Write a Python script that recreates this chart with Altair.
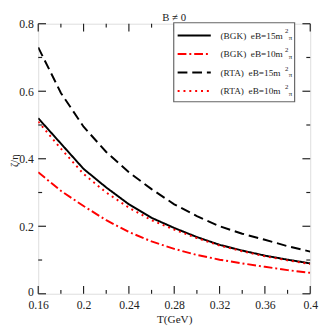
import altair as alt
import pandas as pd

T = [0.16, 0.18, 0.20, 0.22, 0.24, 0.26, 0.28, 0.30, 0.32, 0.34, 0.36, 0.38, 0.40]
bgk15 = [0.52, 0.445, 0.37, 0.315, 0.265, 0.225, 0.195, 0.168, 0.145, 0.128, 0.113, 0.101, 0.09]
bgk10 = [0.36, 0.305, 0.26, 0.218, 0.183, 0.155, 0.133, 0.115, 0.101, 0.09, 0.08, 0.07, 0.062]
rta15 = [0.73, 0.595, 0.495, 0.42, 0.36, 0.31, 0.265, 0.23, 0.20, 0.178, 0.16, 0.141, 0.125]
rta10 = [0.51, 0.43, 0.355, 0.30, 0.255, 0.218, 0.19, 0.165, 0.143, 0.126, 0.111, 0.099, 0.088]

series_names = ["(BGK)  eB=15m", "(BGK)  eB=10m", "(RTA)  eB=15m", "(RTA)  eB=10m"]
series_vals = [bgk15, bgk10, rta15, rta10]
series_color = ["black", "red", "black", "red"]
series_dash = [[1, 0], [9, 3, 2, 3], [10, 5], [2, 4]]

x_major = [0.16, 0.20, 0.24, 0.28, 0.32, 0.36, 0.40]
x_minor = [0.18, 0.22, 0.26, 0.30, 0.34, 0.38]
y_major = [0.0, 0.2, 0.4, 0.6, 0.8]
y_minor = [0.1, 0.3, 0.5, 0.7]

W, H = 279, 277
FONT = "Liberation Serif"

xs = alt.Scale(domain=[0.16, 0.40], nice=False, zero=False)
ys = alt.Scale(domain=[0.0, 0.8], nice=False, zero=False)

layers = []
for name, vals, col, dash in zip(series_names, series_vals, series_color, series_dash):
    df = pd.DataFrame({"T": T, "v": vals, "s": name})
    layers.append(
        alt.Chart(df).mark_line(color=col, strokeDash=dash, strokeWidth=2, clip=True).encode(
            x=alt.X("T:Q", scale=xs),
            y=alt.Y("v:Q", scale=ys),
        )
    )

# inward ticks on all four sides
def xticks(vals, length):
    d = pd.DataFrame({"t": vals})
    b = alt.Chart(d).mark_rule(color="#222", strokeWidth=1.2).encode(
        x=alt.X("t:Q", scale=xs), y=alt.value(H), y2=alt.value(H - length))
    t = alt.Chart(d).mark_rule(color="#222", strokeWidth=1.2).encode(
        x=alt.X("t:Q", scale=xs), y=alt.value(0), y2=alt.value(length))
    return [b, t]

def yticks(vals, length):
    d = pd.DataFrame({"t": vals})
    l = alt.Chart(d).mark_rule(color="#222", strokeWidth=1.2).encode(
        y=alt.Y("t:Q", scale=ys), x=alt.value(0), x2=alt.value(length))
    r = alt.Chart(d).mark_rule(color="#222", strokeWidth=1.2).encode(
        y=alt.Y("t:Q", scale=ys), x=alt.value(W), x2=alt.value(W - length))
    return [l, r]

ticks = xticks(x_major, 8) + xticks(x_minor, 4) + yticks(y_major, 8) + yticks(y_minor, 4)

# axes (labels only)
axis_layer = alt.Chart(pd.DataFrame({"T": [0.16], "v": [0.0]})).mark_point(opacity=0).encode(
    x=alt.X("T:Q", scale=xs, axis=alt.Axis(
        values=x_major, format=".2~f", ticks=False, domain=False, grid=False,
        labelFlush=False, labelOverlap=False,
        labelFont=FONT, labelFontSize=12, labelColor="#222", labelPadding=6,
        title="T(GeV)", titleFont=FONT, titleFontSize=11.5, titleFontWeight="normal",
        titleColor="#222", titleY=29.5, titleBaseline="alphabetic")),
    y=alt.Y("v:Q", scale=ys, axis=alt.Axis(
        values=y_major, format=".1~f", ticks=False, domain=False, grid=False,
        labelFlush=False, labelOverlap=False,
        labelOffset={"condition": {"test": "datum.value === 0", "value": -2.5}, "value": 0},
        labelFont=FONT, labelFontSize=12, labelColor="#222", labelPadding=5,
        title="ζ/η", titleFont=FONT, titleFontSize=10.5, titleFontWeight="normal",
        titleColor="#222", titleX=-21.5, titleY=140, titleAngle=270, titleBaseline="alphabetic")),
)

# title text
title_layer = alt.Chart(pd.DataFrame({"t": ["B ≠ 0"]})).mark_text(
    font=FONT, fontSize=11, color="#222", baseline="alphabetic", align="center").encode(
    text="t:N", x=alt.value(W / 2), y=alt.value(-2.5))

# legend (drawn manually)
box = alt.Chart(pd.DataFrame({"a": [0]})).mark_rect(
    fill="white", stroke="#666", strokeWidth=1.2).encode(
    x=alt.value(139), x2=alt.value(263), y=alt.value(-1), y2=alt.value(80))
legend_layers = [box]
rows = [12, 31, 50, 69]
for i, (name, col, dash) in enumerate(zip(series_names, series_color, series_dash)):
    ry = rows[i]
    legend_layers.append(
        alt.Chart(pd.DataFrame({"a": [0]})).mark_rule(color=col, strokeDash=dash, strokeWidth=2).encode(
            x=alt.value(143), x2=alt.value(177), y=alt.value(ry))
    )
    legend_layers.append(
        alt.Chart(pd.DataFrame({"t": [name.replace(" ", "\u00a0")]})).mark_text(
            font=FONT, fontSize=9.5, color="#222", align="left", baseline="alphabetic").encode(
            text="t:N", x=alt.value(187), y=alt.value(ry + 3.5))
    )
    legend_layers.append(
        alt.Chart(pd.DataFrame({"t": ["2"]})).mark_text(
            font=FONT, fontSize=7, color="#222", align="left", baseline="alphabetic").encode(
            text="t:N", x=alt.value(253), y=alt.value(ry - 2))
    )
    legend_layers.append(
        alt.Chart(pd.DataFrame({"t": ["π"]})).mark_text(
            font=FONT, fontSize=7, color="#222", align="left", baseline="alphabetic").encode(
            text="t:N", x=alt.value(257), y=alt.value(ry + 5))
    )

chart = alt.layer(*layers, *ticks, axis_layer, title_layer, *legend_layers).properties(
    width=W, height=H,
    autosize=alt.AutoSizeParams(type="none"),
    padding={"left": 31, "top": 12, "right": 9, "bottom": 32},
).configure_view(stroke="#222", strokeWidth=2).configure(background="white")

chart.save("out.html", embed_options={"renderer": "svg", "actions": False})
